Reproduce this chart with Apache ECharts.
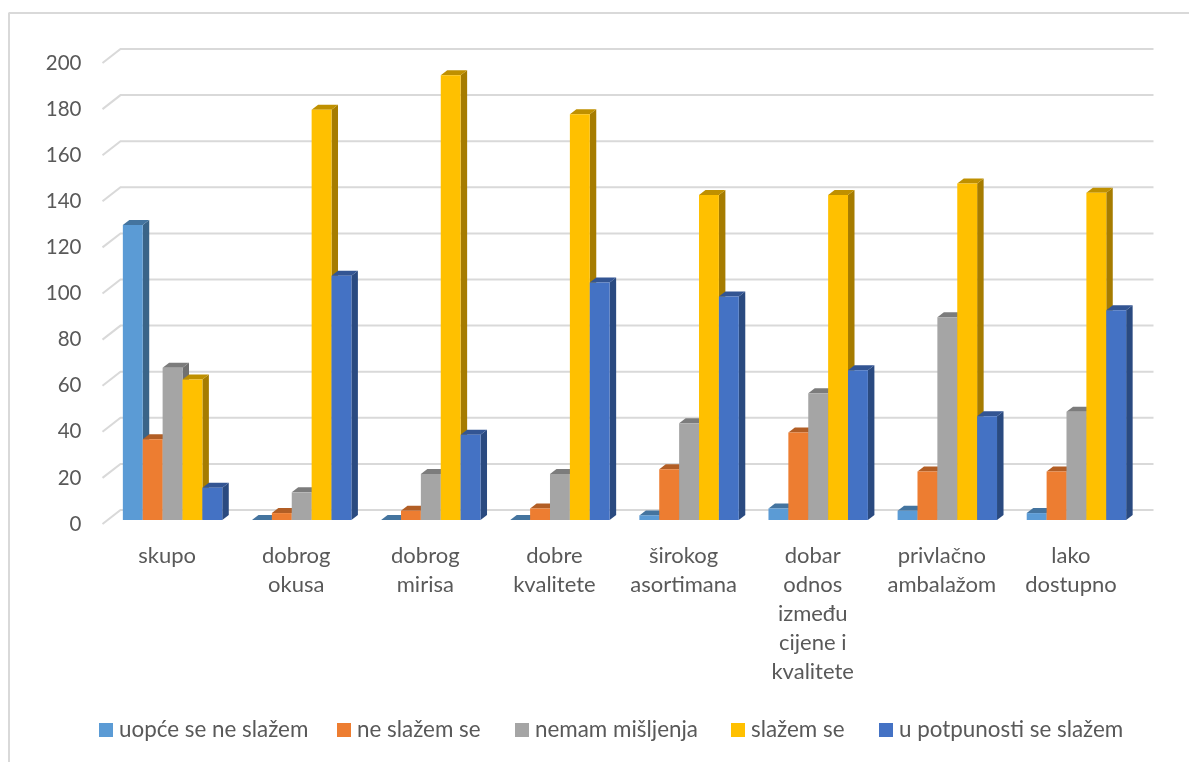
<!DOCTYPE html>
<html><head><meta charset="utf-8">
<style>html,body{margin:0;padding:0;background:#fff}#c{width:1189px;height:762px}</style>
<script src="https://cdn.jsdelivr.net/npm/echarts@6/dist/echarts.min.js"></script>
</head><body><div id="c"></div>
<script>
const categories = ['skupo','dobrog\nokusa','dobrog\nmirisa','dobre\nkvalitete','širokog\nasortimana','dobar\nodnos\nizmeđu\ncijene i\nkvalitete','privlačno\nambalažom','lako\ndostupno'];
const uopce = [128,0,0,0,2,5,4,3];
const neSlazem = [35,3,4,5,22,38,21,21];
const nemam = [66,12,20,20,42,55,88,47];
const slazem = [61,178,193,176,141,141,146,142];
const potpuno = [14,106,37,103,97,65,45,91];
const ticks = [0,20,40,60,80,100,120,140,160,180,200];
const names = ['uopće se ne slažem','ne slažem se','nemam mišljenja','slažem se','u potpunosti se slažem'];
const colors = ['#5B9BD5','#ED7D31','#A5A5A5','#FFC000','#4472C4'];
const tops = ['#44749F','#B25E25','#7C7C7C','#BF9000','#335593'];
const sides = ['#3A6488','#A0551F','#707070','#A67C00','#2A4A80'];
const legendLeft = [99,337,515,731,879];
const values = [uopce,neSlazem,nemam,slazem,potpuno];
const FONT = 'Lato';
const WALL_DX = 18, WALL_DY = -14, PLANE_DX = 5.5, PLANE_DY = -4, BAR_DX = 6.5, BAR_DY = -5;
const BAR_RATIO = 0.154;

function barRenderer(si){
  return function(params, api){
    const v = api.value(1);
    const c = api.coord([api.value(0), v]);
    const b = api.coord([api.value(0), 0]);
    const w = api.size([1,0])[0] * BAR_RATIO;
    const x0 = c[0] + PLANE_DX + (si-2.5)*w, x1 = x0 + w;
    const yT = c[1] + PLANE_DY, yB = b[1] + PLANE_DY;
    const poly = (pts, fill) => ({type:'polygon', shape:{points:pts}, style:{fill:fill}});
    return {type:'group', children:[
      poly([[x1,yB],[x1+BAR_DX,yB+BAR_DY],[x1+BAR_DX,yT+BAR_DY],[x1,yT]], sides[si]),
      poly([[x0,yT],[x0+BAR_DX,yT+BAR_DY],[x1+BAR_DX,yT+BAR_DY],[x1,yT]], tops[si]),
      {type:'rect', shape:{x:x0,y:yT,width:w,height:yB-yT}, style:{fill:colors[si]}}
    ]};
  };
}
function gridRenderer(params, api){
  const y = api.coord([0, api.value(0)])[1];
  const cs = params.coordSys;
  return {type:'polyline', shape:{points:[[cs.x,y],[cs.x+WALL_DX,y+WALL_DY],[cs.x+cs.width+WALL_DX,y+WALL_DY]]},
    style:{stroke:'#D9D9D9', lineWidth:2, fill:null}};
}
const series = [{type:'custom', name:'grid', silent:true, renderItem:gridRenderer, z:1,
  data:ticks.map(t=>[t]), encode:{y:0}, animation:false, clip:false}];
values.forEach((arr,si)=>series.push({
  type:'custom', name:names[si], renderItem:barRenderer(si), z:2+si, animation:false, clip:false,
  itemStyle:{color:colors[si]}, encode:{x:0,y:1},
  data:arr.map((v,i)=>[i,v])
}));
const chart = echarts.init(document.getElementById('c'));
chart.setOption({
  animation:false,
  backgroundColor:'#fff',
  textStyle:{fontFamily:FONT},
  graphic:[
    {type:'line', shape:{x1:8.5,y1:13,x2:1189,y2:13}, style:{stroke:'#D9D9D9',lineWidth:2}},
    {type:'line', shape:{x1:9,y1:13,x2:9,y2:762}, style:{stroke:'#D9D9D9',lineWidth:2}}
  ],
  grid:{left:102.5, width:1033, top:63, height:461},
  legend:names.map((n,i)=>({
    data:[n], left:legendLeft[i], top:719, padding:0, icon:'rect', itemWidth:14, itemHeight:14,
    textStyle:{fontFamily:FONT, fontSize:22.4, color:'#595959', padding:[0,0,0,1]}
  })),
  xAxis:{type:'category', data:categories, axisLine:{show:false}, axisTick:{show:false}, splitLine:{show:false},
    axisLabel:{interval:0, fontFamily:FONT, fontSize:22, color:'#595959', lineHeight:29, margin:17}},
  yAxis:{type:'value', min:0, max:200, interval:20, axisLine:{show:false}, axisTick:{show:false}, splitLine:{show:false},
    axisLabel:{fontFamily:FONT, fontSize:20.5, color:'#595959', margin:21}},
  series:series
});
</script></body></html>
